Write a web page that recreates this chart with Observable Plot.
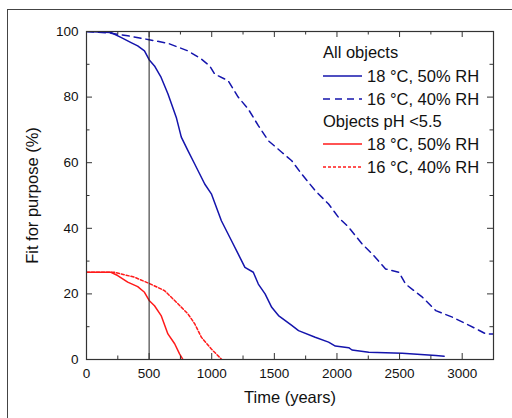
<!DOCTYPE html>
<html>
<head>
<meta charset="utf-8">
<script src="https://cdn.jsdelivr.net/npm/d3@7"></script>
<script src="https://cdn.jsdelivr.net/npm/@observablehq/plot@0.6"></script>
<style>
  html, body { margin: 0; padding: 0; background: #fff; }
  body { width: 512px; height: 418px; position: relative; overflow: hidden; font-family: "Liberation Sans", Arial, sans-serif; }
  #frame { position: absolute; left: 7px; top: 9px; width: 600px; height: 500px; border-left: 1px solid #444; border-top: 1px solid #444; }
  #chart { position: absolute; left: 0; top: 0; }
  #legend { position: absolute; left: 0; top: 0; width: 512px; height: 418px; pointer-events: none; color: #111; font-size: 16.5px; }
  .row { position: absolute; height: 20px; line-height: 20px; white-space: nowrap; }
  .row svg { position: absolute; left: 0; top: 0; }
</style>
</head>
<body>
<div id="frame"></div>
<div id="chart"></div>
<div id="legend"></div>
<script>
// Series: All objects, 18 °C 50% RH (solid blue)
const allWarmYears = [0, 195, 275, 356, 409, 463, 500, 543, 596, 650, 717, 757, 810, 864, 944, 997, 1077, 1158, 1211, 1265, 1332, 1372, 1426, 1479, 1533, 1639, 1693, 1826, 1933, 1987, 2094, 2120, 2254, 2521, 2789, 2856];
const allWarmFit   = [100, 99.7, 98.2, 96.6, 95.6, 94.1, 91.4, 89.5, 86, 81, 73.8, 67.8, 63.7, 59.6, 53.5, 50.5, 42.3, 36.2, 32.2, 28.1, 26.6, 23, 20, 15.9, 13.4, 10.4, 8.8, 6.8, 5.3, 4.1, 3.6, 2.9, 2.2, 1.9, 1.2, 1.0];
// Series: All objects, 16 °C 40% RH (dashed blue)
const allCoolYears = [0, 195, 329, 500, 650, 810, 917, 984, 1024, 1131, 1211, 1291, 1372, 1452, 1559, 1639, 1719, 1826, 1933, 2013, 2094, 2201, 2281, 2388, 2495, 2548, 2682, 2789, 2922, 3056, 3190, 3250];
const allCoolFit   = [100, 99.5, 98.7, 97.5, 96.4, 94.1, 91.6, 89.5, 87, 85, 80, 76.4, 71.3, 66.7, 63.2, 60.6, 56.5, 51.5, 47.4, 43.3, 40.3, 35.2, 32.2, 27.6, 26.6, 23, 19, 14.9, 12.9, 10.4, 7.8, 7.8];
// Series: Objects pH <5.5, 18 °C 50% RH (solid red)
const acidWarmYears = [0, 195, 249, 329, 409, 463, 500, 543, 596, 650, 704, 743, 770];
const acidWarmFit   = [26.6, 26.6, 25.6, 23.6, 22.2, 20.5, 18, 16.4, 13.4, 7.8, 4.8, 1.7, 0];
// Series: Objects pH <5.5, 16 °C 40% RH (dotted red)
const acidCoolYears = [0, 222, 382, 500, 623, 730, 810, 864, 917, 997, 1080];
const acidCoolFit   = [26.6, 26.6, 25.1, 23.2, 21, 17, 13.9, 10.9, 6.8, 3.2, 0];

// Tick values
const xMajor = [0, 500, 1000, 1500, 2000, 2500, 3000];
const xMinor = [250, 750, 1250, 1750, 2250, 2750, 3250];
const yMajor = [0, 20, 40, 60, 80, 100];
const yMinor = [10, 30, 50, 70, 90];
const markerYear = [500];

// Legend entries
const legendHeaders = ["All objects", "Objects pH <5.5"];
const legendLabels = ["18 °C, 50% RH", "16 °C, 40% RH"];

const BLUE = "#1414ac";
const RED = "#ff1a1a";

const toRows = (xs, ys) => xs.map((x, i) => ({x, y: ys[i]}));
const series = [
  {data: toRows(allWarmYears, allWarmFit), stroke: BLUE, dash: null},
  {data: toRows(allCoolYears, allCoolFit), stroke: BLUE, dash: "7,5"},
  {data: toRows(acidWarmYears, acidWarmFit), stroke: RED, dash: null},
  {data: toRows(acidCoolYears, acidCoolFit), stroke: RED, dash: "3,2"}
];

const W = 512, H = 418;
const mL = 86, mR = 19, mT = 31, mB = 59;
const pw = W - mL - mR, ph = H - mT - mB;
const AX = "#333";

const chart = Plot.plot({
  width: W, height: H,
  marginLeft: mL, marginRight: mR, marginTop: mT, marginBottom: mB,
  style: {fontFamily: "Liberation Sans, Arial, sans-serif", fontSize: "13.5px", color: "#111", background: "transparent", overflow: "visible"},
  x: {domain: [0, 3250], label: null},
  y: {domain: [0, 100], label: null},
  marks: [
    ...series.map(s => Plot.line(s.data, {x: "x", y: "y", stroke: s.stroke, strokeWidth: 1.5, strokeDasharray: s.dash, clip: true})),
    Plot.ruleX(markerYear, {stroke: "#222", strokeWidth: 1}),
    Plot.frame({stroke: AX, strokeWidth: 1.2}),
    // inward ticks: bottom & top
    Plot.tickX(xMajor, {x: d => d, stroke: AX, insetTop: ph - 6}),
    Plot.tickX(xMinor, {x: d => d, stroke: AX, insetTop: ph - 3.5}),
    Plot.tickX(xMajor, {x: d => d, stroke: AX, insetBottom: ph - 6}),
    Plot.tickX(xMinor, {x: d => d, stroke: AX, insetBottom: ph - 3.5}),
    // inward ticks: left & right
    Plot.tickY(yMajor, {y: d => d, stroke: AX, insetRight: pw - 6}),
    Plot.tickY(yMinor, {y: d => d, stroke: AX, insetRight: pw - 3.5}),
    Plot.tickY(yMajor, {y: d => d, stroke: AX, insetLeft: pw - 6}),
    Plot.tickY(yMinor, {y: d => d, stroke: AX, insetLeft: pw - 3.5}),
    Plot.axisX({ticks: xMajor, tickSize: 0, tickPadding: 9, tickFormat: d => String(d), label: null, fill: "#111"}),
    Plot.axisY({ticks: yMajor, tickSize: 0, tickPadding: 8, tickFormat: d => String(d), label: null, fill: "#111"}),
    Plot.text(["Time (years)"], {frameAnchor: "bottom", lineAnchor: "middle", textAnchor: "middle", dy: 38, fontSize: 16.5, fill: "#111"}),
    Plot.text(["Fit for purpose (%)"], {frameAnchor: "left", lineAnchor: "middle", textAnchor: "middle", dx: -54, rotate: -90, fontSize: 16.5, fill: "#111"})
  ]
});
document.getElementById("chart").appendChild(chart);

// Legend (HTML overlay)
const legend = document.getElementById("legend");
const items = [
  {header: legendHeaders[0], y: 52},
  {label: legendLabels[0], stroke: BLUE, dash: null, y: 76},
  {label: legendLabels[1], stroke: BLUE, dash: "7,5", y: 99},
  {header: legendHeaders[1], y: 121},
  {label: legendLabels[0], stroke: RED, dash: null, y: 144},
  {label: legendLabels[1], stroke: RED, dash: "3,2", y: 167}
];
for (const it of items) {
  const row = document.createElement("div");
  row.className = "row";
  row.style.top = (it.y - 10) + "px";
  if (it.header) {
    row.style.left = "323px";
    row.textContent = it.header;
  } else {
    row.style.left = "323px";
    row.style.width = "180px";
    const ns = "http://www.w3.org/2000/svg";
    const svg = document.createElementNS(ns, "svg");
    svg.setAttribute("width", "40"); svg.setAttribute("height", "20");
    const ln = document.createElementNS(ns, "line");
    ln.setAttribute("x1", "0"); ln.setAttribute("x2", "39");
    ln.setAttribute("y1", "10"); ln.setAttribute("y2", "10");
    ln.setAttribute("stroke", it.stroke); ln.setAttribute("stroke-width", "1.5");
    if (it.dash) ln.setAttribute("stroke-dasharray", it.dash);
    svg.appendChild(ln);
    row.appendChild(svg);
    const sp = document.createElement("span");
    sp.style.position = "absolute"; sp.style.left = "44px";
    sp.textContent = it.label;
    row.appendChild(sp);
  }
  legend.appendChild(row);
}
</script>
</body>
</html>
